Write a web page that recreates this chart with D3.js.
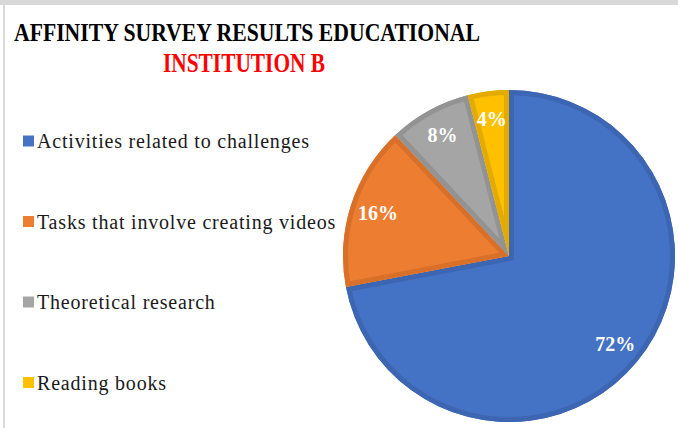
<!DOCTYPE html>
<html>
<head>
<meta charset="utf-8">
<script src="https://cdn.jsdelivr.net/npm/d3@7/dist/d3.min.js"></script>
<style>
  html, body { margin: 0; padding: 0; background: #fff; }
  svg { display: block; }
</style>
</head>
<body>
<svg id="chart" width="678" height="428"></svg>
<script>
// ---- Data ----
const categories = [
  "Activities related to challenges",
  "Tasks that involve creating videos",
  "Theoretical research",
  "Reading books"
];
const values = [72, 16, 8, 4];
const titleLines = ["AFFINITY SURVEY RESULTS EDUCATIONAL", "INSTITUTION B"];

// ---- Styles ----
const fills = ["#4472C4", "#ED7D31", "#A5A5A5", "#FFC000"];
const borders = ["#3D66B2", "#D8702A", "#939393", "#E3AB00"];

const W = 678, H = 428;
const svg = d3.select("#chart");

// frame
svg.append("rect").attr("x", 0).attr("y", 0).attr("width", W).attr("height", 5).attr("fill", "#d9d9d9");
svg.append("rect").attr("x", 3).attr("y", 0).attr("width", 2).attr("height", H).attr("fill", "#d9d9d9");

// title
const serif = "'Liberation Serif', 'Times New Roman', serif";
svg.append("text").attr("x", 14).attr("y", 41)
  .attr("font-family", serif).attr("font-weight", "bold").attr("font-size", 26)
  .attr("textLength", 466).attr("lengthAdjust", "spacingAndGlyphs")
  .attr("fill", "#000").text(titleLines[0]);
svg.append("text").attr("x", 163).attr("y", 72)
  .attr("font-family", serif).attr("font-weight", "bold").attr("font-size", 27)
  .attr("textLength", 162).attr("lengthAdjust", "spacingAndGlyphs")
  .attr("fill", "#FF0000").text(titleLines[1]);

// legend
const legendY = d3.scalePoint().domain(categories).range([141, 382.5]);
const lg = svg.append("g").selectAll("g").data(categories).join("g")
  .attr("transform", d => `translate(23,${legendY(d)})`);
lg.append("rect").attr("x", 0).attr("y", -5.5).attr("width", 11).attr("height", 11)
  .attr("fill", (d, i) => fills[i]);
lg.append("text").attr("x", 14).attr("y", 7)
  .attr("font-family", serif).attr("font-size", 20).attr("letter-spacing", 0.8)
  .attr("fill", "#1a1a1a")
  .text(d => d);

// pie
const cx = 509, cy = 256, R = 166;
const pie = d3.pie().sort(null).value(d => d.v);
const arcs = pie(values.map((v, i) => ({ v, i })));
const arc = d3.arc().innerRadius(0).outerRadius(R);
const g = svg.append("g").attr("transform", `translate(${cx},${cy})`);
const defs = svg.append("defs");
arcs.forEach((a, i) => {
  defs.append("clipPath").attr("id", "clip" + i).append("path").attr("d", arc(a));
});
const slices = g.selectAll("g.slice").data(arcs).join("g").attr("class", "slice");
slices.append("path").attr("d", arc).attr("fill", (d, i) => fills[i]);
slices.append("path").attr("d", arc)
  .attr("fill", "none").attr("stroke", (d, i) => borders[i]).attr("stroke-width", 10)
  .attr("stroke-linejoin", "miter")
  .attr("clip-path", (d, i) => `url(#clip${i})`);

// labels
const labelArc = d3.arc().innerRadius(R * 0.83).outerRadius(R * 0.83);
g.selectAll("text.lbl").data(arcs).join("text").attr("class", "lbl")
  .attr("transform", d => {
    const [x, y] = labelArc.centroid(d);
    return `translate(${x},${y})`;
  })
  .attr("text-anchor", "middle").attr("dy", "0.35em")
  .attr("font-family", serif).attr("font-weight", "bold").attr("font-size", 20)
  .attr("fill", "#fff")
  .text(d => d.data.v + "%");
</script>
</body>
</html>
